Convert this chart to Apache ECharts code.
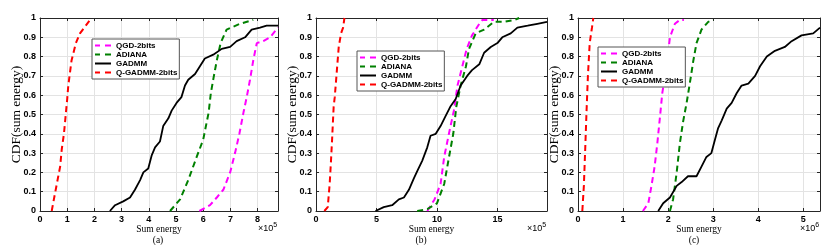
<!DOCTYPE html>
<html>
<head>
<meta charset="utf-8">
<script src="https://cdn.jsdelivr.net/npm/echarts@6/dist/echarts.min.js"></script>
<style>html,body{margin:0;padding:0;background:#fff;}#c{width:830px;height:245px;}</style>
</head>
<body>
<div id="c"></div>
<script>
// Series names
const seriesNames = ['QGD-2bits', 'ADIANA', 'GADMM', 'Q-GADMM-2bits'];
const panelCaptions = ['(a)', '(b)', '(c)'];
const exponents = ['5', '5', '6'];
const xMaxes = [8.75, 19.1, 5.37];
const xIntervals = [1, 5, 1];

// Panel (a): sum energy (x 1e5) vs CDF
const aQGD = [[5.86,0],[6.25,0.03],[6.5,0.07],[6.74,0.11],[6.99,0.2],[7.17,0.3],[7.33,0.4],[7.48,0.51],[7.6,0.59],[7.72,0.68],[7.84,0.78],[7.97,0.87],[8.21,0.88],[8.46,0.9],[8.75,0.95]];
const aADIANA = [[4.78,0],[5.15,0.06],[5.45,0.16],[5.76,0.28],[6.0,0.37],[6.2,0.51],[6.28,0.61],[6.38,0.69],[6.5,0.78],[6.64,0.87],[6.86,0.94],[7.35,0.97],[7.84,0.99]];
const aGADMM = [[2.57,0],[2.76,0.03],[3.06,0.05],[3.31,0.07],[3.49,0.11],[3.68,0.16],[3.8,0.2],[3.98,0.22],[4.11,0.29],[4.23,0.33],[4.41,0.36],[4.53,0.44],[4.72,0.48],[4.84,0.52],[5.02,0.56],[5.2,0.59],[5.33,0.65],[5.45,0.68],[5.7,0.71],[5.88,0.75],[6.06,0.79],[6.37,0.81],[6.68,0.84],[6.99,0.85],[7.23,0.88],[7.54,0.9],[7.78,0.94],[8.09,0.95],[8.33,0.96],[8.75,0.96]];
const aQGADMM = [[0.43,0],[0.55,0.09],[0.74,0.23],[0.8,0.32],[0.88,0.4],[1.0,0.58],[1.04,0.65],[1.16,0.78],[1.32,0.87],[1.47,0.92],[1.84,0.99],[1.88,1.0]];

// Panel (b): sum energy (x 1e5) vs CDF
const bQGD = [[9.2,0],[9.8,0.06],[10.3,0.14],[10.6,0.28],[10.99,0.4],[11.4,0.52],[11.7,0.65],[12.1,0.75],[12.46,0.84],[12.9,0.91],[13.5,0.97],[13.76,0.99],[14.7,0.99]];
const bADIANA = [[8.37,0],[9.2,0.01],[10.0,0.04],[10.6,0.14],[11.0,0.28],[11.35,0.4],[11.6,0.54],[11.96,0.65],[12.4,0.75],[12.65,0.84],[13.2,0.92],[13.9,0.94],[14.7,0.98],[15.5,0.98],[16.4,0.99],[16.8,1.0]];
const bGADMM = [[4.92,0],[5.6,0.02],[6.3,0.03],[6.85,0.06],[7.27,0.07],[7.68,0.11],[8.1,0.17],[8.4,0.21],[8.78,0.26],[9.2,0.33],[9.47,0.39],[9.9,0.4],[10.3,0.44],[10.7,0.49],[11.1,0.54],[11.55,0.58],[11.96,0.65],[12.5,0.7],[12.9,0.73],[13.5,0.76],[13.9,0.82],[14.45,0.85],[15.0,0.87],[15.4,0.9],[16.1,0.92],[16.65,0.95],[17.5,0.96],[18.3,0.97],[19.1,0.98]];
const bQGADMM = [[0.69,0],[0.97,0.02],[1.13,0.14],[1.24,0.26],[1.33,0.37],[1.46,0.54],[1.55,0.59],[1.69,0.7],[1.88,0.85],[2.07,0.92],[2.24,0.95],[2.35,1.0]];

// Panel (c): sum energy (x 1e6) vs CDF
const cQGD = [[1.44,0],[1.56,0.04],[1.63,0.13],[1.7,0.23],[1.76,0.35],[1.82,0.49],[1.87,0.61],[1.93,0.7],[1.99,0.8],[2.04,0.9],[2.15,0.97],[2.26,0.99],[2.35,0.99]];
const cADIANA = [[2.04,0],[2.11,0.06],[2.19,0.2],[2.26,0.35],[2.33,0.46],[2.41,0.56],[2.48,0.66],[2.56,0.78],[2.63,0.87],[2.74,0.94],[2.89,0.98],[3.0,0.99]];
const cGADMM = [[1.78,0],[1.89,0.04],[2.04,0.07],[2.19,0.13],[2.3,0.15],[2.44,0.18],[2.63,0.18],[2.74,0.23],[2.85,0.28],[2.96,0.3],[3.04,0.37],[3.11,0.43],[3.19,0.47],[3.3,0.53],[3.41,0.56],[3.52,0.61],[3.63,0.65],[3.78,0.66],[3.93,0.7],[4.04,0.75],[4.19,0.8],[4.37,0.83],[4.59,0.85],[4.74,0.88],[4.96,0.91],[5.22,0.92],[5.37,0.95]];
const cQGADMM = [[0.096,0],[0.13,0.13],[0.16,0.32],[0.19,0.52],[0.22,0.7],[0.26,0.87],[0.31,0.95],[0.34,1.0]];

const panels = [
  [aQGD, aADIANA, aGADMM, aQGADMM],
  [bQGD, bADIANA, bGADMM, bQGADMM],
  [cQGD, cADIANA, cGADMM, cQGADMM]
];

const colors = ['#ff00ff', '#008000', '#000000', '#ff0000'];
const dashed = [true, true, false, true];
const dashIcon = 'path://M0,0h5v2h-5zM10,0h6v2h-6z';
const solidIcon = 'path://M0,0h16v2h-16z';

const gridBoxes = [
  {left: 40, top: 18, width: 238, height: 193},
  {left: 316, top: 18, width: 231, height: 193},
  {left: 578, top: 18, width: 242, height: 193}
];
const legendPos = [
  {left: 92, top: 39},
  {left: 357, top: 51},
  {left: 598, top: 47}
];
const captionX = [158, 421, 694];

const axisGray = '#262626';
const tickFont = {fontFamily: 'Liberation Sans', fontWeight: 'bold', fontSize: 9, color: '#000'};

const grid = [], xAxis = [], yAxis = [], series = [], legend = [], graphic = [];
gridBoxes.forEach((g, i) => {
  grid.push(Object.assign({containLabel: false}, g));
  xAxis.push({
    type: 'value', gridIndex: i, min: 0, max: xMaxes[i], interval: xIntervals[i],
    name: 'Sum energy', nameLocation: 'middle', nameGap: 13, nameMoveOverlap: false,
    nameTextStyle: {fontFamily: 'Liberation Serif', fontSize: 9.5, color: '#000'},
    axisLine: {onZero: false, lineStyle: {color: axisGray, width: 1}},
    axisTick: {inside: true, length: 3, lineStyle: {color: axisGray}},
    axisLabel: Object.assign({margin: 4, showMaxLabel: false}, tickFont),
    splitLine: {show: true, lineStyle: {color: '#e3e3e3', width: 1}}
  });
  yAxis.push({
    type: 'value', gridIndex: i, min: 0, max: 1, interval: 0.1,
    name: 'CDF(sum energy)', nameLocation: 'middle', nameGap: 17, nameMoveOverlap: false,
    nameTextStyle: {fontFamily: 'Liberation Serif', fontSize: 13.5, color: '#000'},
    axisLine: {show: true, onZero: false, lineStyle: {color: axisGray, width: 1}},
    axisTick: {show: true, inside: true, length: 3, lineStyle: {color: axisGray}},
    axisLabel: Object.assign({margin: 4, formatter: v => (v === 0 ? '0' : v === 1 ? '1' : v.toFixed(1))}, tickFont),
    splitLine: {show: true, lineStyle: {color: '#e3e3e3', width: 1}}
  });
});
// box axes (top / right)
gridBoxes.forEach((g, i) => {
  xAxis.push({
    type: 'value', gridIndex: i, position: 'top', min: 0, max: xMaxes[i], interval: xIntervals[i],
    axisLine: {onZero: false, lineStyle: {color: axisGray, width: 1}},
    axisTick: {inside: true, length: 3, lineStyle: {color: axisGray}},
    axisLabel: {show: false}, splitLine: {show: false}
  });
  yAxis.push({
    type: 'value', gridIndex: i, position: 'right', min: 0, max: 1, interval: 0.1,
    axisLine: {show: true, onZero: false, lineStyle: {color: axisGray, width: 1}},
    axisTick: {show: true, inside: true, length: 3, lineStyle: {color: axisGray}},
    axisLabel: {show: false}, splitLine: {show: false}
  });
});

panels.forEach((p, i) => {
  p.forEach((data, k) => {
    series.push({
      type: 'line', name: seriesNames[k], xAxisIndex: i, yAxisIndex: i,
      data: data, symbol: 'none', showSymbol: false, animation: false,
      z: k === 2 ? 3 : 2,
      lineStyle: dashed[k]
        ? {color: colors[k], width: 2, type: [6, 4]}
        : {color: colors[k], width: 1.8, type: 'solid'},
      itemStyle: {color: colors[k]}
    });
  });
  legend.push(Object.assign({
    orient: 'vertical', itemWidth: 16, itemHeight: 2, itemGap: 0,
    padding: [2, 2, 2, 3], borderColor: '#555', borderWidth: 1, backgroundColor: '#fff',
    data: seriesNames.map((n, k) => ({name: n, icon: dashed[k] ? dashIcon : solidIcon, itemStyle: {color: colors[k]}})),
    textStyle: {fontFamily: 'Liberation Sans', fontWeight: 'bold', fontSize: 8, color: '#000', lineHeight: 9},
    selectedMode: false
  }, legendPos[i]));
  const g = gridBoxes[i];
  graphic.push({
    type: 'text', left: g.left + g.width - 20, top: 222,
    style: {
      text: '{a|×10}{b|' + exponents[i] + '}',
      rich: {
        a: {fontFamily: 'Liberation Sans', fontSize: 9, fill: '#000', color: '#000'},
        b: {fontFamily: 'Liberation Sans', fontSize: 7, fill: '#000', color: '#000', verticalAlign: 'top', padding: [0, 0, 6, 0]}
      }
    }
  });
  graphic.push({
    type: 'text', x: captionX[i], y: 240,
    style: {text: panelCaptions[i], fontFamily: 'Liberation Serif', fontSize: 9.5, fill: '#000', textAlign: 'center', textVerticalAlign: 'middle'}
  });
});

const chart = echarts.init(document.getElementById('c'), null, {renderer: 'canvas'});
chart.setOption({animation: false, backgroundColor: '#fff', grid, xAxis, yAxis, series, legend, graphic});
</script>
</body>
</html>
